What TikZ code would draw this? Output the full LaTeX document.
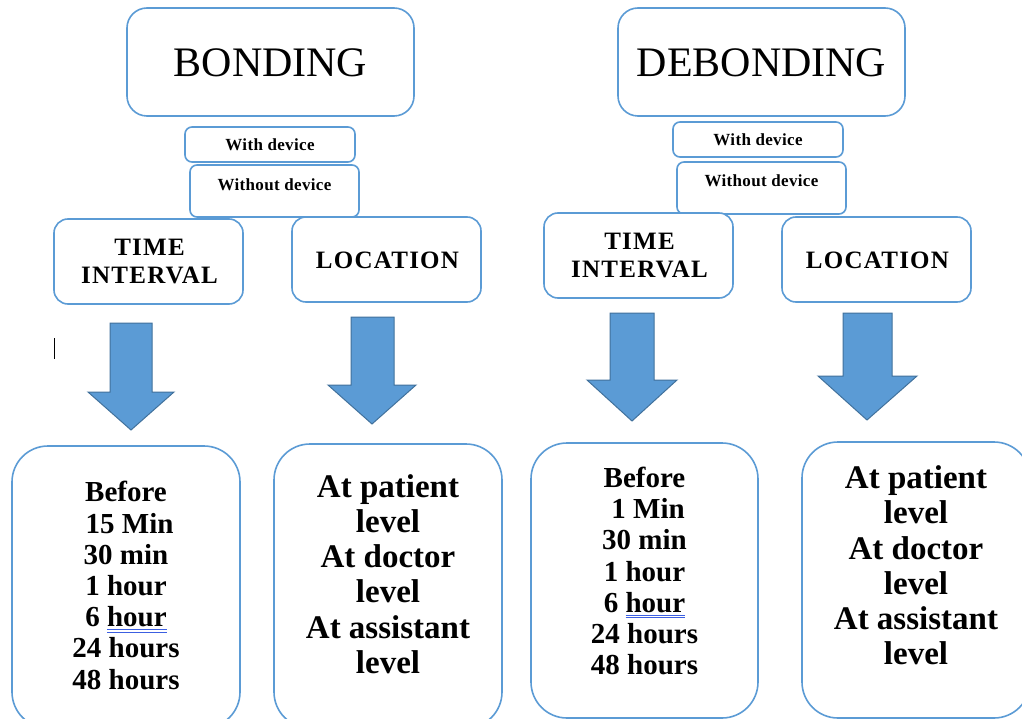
\documentclass[tikz,border=0pt]{standalone}
\usepackage{fontspec}
\setmainfont{Liberation Serif}
\definecolor{boxblue}{RGB}{91,155,213}
\definecolor{arrowedge}{RGB}{65,113,156}
\definecolor{ulblue}{RGB}{60,95,225}
\newsavebox\ulbox
\newcommand\dblunder[1]{\sbox\ulbox{#1}\rlap{\color{ulblue}\rule[-3pt]{\wd\ulbox}{0.7pt}}\rlap{\color{ulblue}\rule[-5.5pt]{\wd\ulbox}{0.7pt}}\usebox\ulbox}
\tikzset{
  frame/.style={draw=boxblue, line width=1.6pt, fill=white, inner sep=0pt},
  bigbox/.style={frame, rounded corners=20pt},
  smallbox/.style={frame, rounded corners=7pt},
  midbox/.style={frame, rounded corners=14pt},
  tallbox/.style={frame, rounded corners=36pt},
  titletext/.style={font=\fontsize{42}{46}\selectfont},
  devtext/.style={font=\fontsize{17}{20}\selectfont\bfseries\addfontfeature{LetterSpace=2}},
  headtext/.style={font=\fontsize{25}{28}\selectfont\bfseries\addfontfeature{LetterSpace=5}, align=center},
  listtext/.style={font=\fontsize{29}{31.2}\selectfont\bfseries, align=center},
  placetext/.style={font=\fontsize{33}{35.2}\selectfont\bfseries, align=center},
  blockarrow/.style={fill=boxblue, draw=arrowedge, line width=1pt, line join=miter}
}
\begin{document}
\begin{tikzpicture}[x=1pt,y=-1pt]
\clip (0,0) rectangle (1022,719);
\fill[white] (0,0) rectangle (1022,719);

% ---- left side: BONDING ----
\node[bigbox, minimum width=287pt, minimum height=108pt] (bond) at (270.5,62) {};
\node[titletext] (bondt) at (270.5,63) {BONDING};
\node[smallbox, minimum width=170pt, minimum height=35pt] (wd1) at (270,144.5) {};
\node[devtext] (wd1t) at (270,145) {With device};
\node[smallbox, minimum width=169pt, minimum height=52pt] (wod1) at (274.5,191) {};
\node[devtext] (wod1t) at (274.5,185) {Without device};
\node[midbox, minimum width=189pt, minimum height=85pt] (time1) at (148.5,261.5) {};
\node[headtext] (time1t) at (149.5,262) {TIME\\INTERVAL};
\node[midbox, minimum width=189pt, minimum height=85pt] (loc1) at (386.5,259.5) {};
\node[headtext] (loc1t) at (387.5,260) {LOCATION};

\draw[blockarrow] (110,323) -- (152,323) -- (152,392) -- (174,392) -- (131,430) -- (88,392) -- (110,392) -- cycle;
\draw[blockarrow] (351,317) -- (394,317) -- (394,385) -- (416,385) -- (372,424) -- (328,385) -- (351,385) -- cycle;
\draw[line width=0.8pt] (54,338) -- (54,359);

\node[tallbox, minimum width=228pt, minimum height=282pt] (list1) at (126,587) {};
\node[listtext] (list1t) at (126,585.5) {Before\\\hspace*{0.25em}15 Min\\30 min\\1 hour\\6 \dblunder{hour}\\24 hours\\48 hours};
\node[tallbox, minimum width=228pt, minimum height=284pt] (place1) at (388,586) {};
\node[placetext] (place1t) at (388,574) {At patient\\level\\At doctor\\level\\At assistant\\level};

% ---- right side: DEBONDING ----
\node[bigbox, minimum width=287pt, minimum height=108pt] (debond) at (761.5,62) {};
\node[titletext] (debondt) at (761.5,63) {DEBONDING};
\node[smallbox, minimum width=170pt, minimum height=35pt] (wd2) at (758,139.5) {};
\node[devtext] (wd2t) at (758,140) {With device};
\node[smallbox, minimum width=169pt, minimum height=52pt] (wod2) at (761.5,188) {};
\node[devtext] (wod2t) at (761.5,181) {Without device};
\node[midbox, minimum width=189pt, minimum height=85pt] (time2) at (638.5,255.5) {};
\node[headtext] (time2t) at (639.5,256) {TIME\\INTERVAL};
\node[midbox, minimum width=189pt, minimum height=85pt] (loc2) at (876.5,259.5) {};
\node[headtext] (loc2t) at (877.5,260) {LOCATION};

\draw[blockarrow] (610,313) -- (654,313) -- (654,380) -- (677,380) -- (632,421) -- (587,380) -- (610,380) -- cycle;
\draw[blockarrow] (843,313) -- (892,313) -- (892,376) -- (917,376) -- (867,420) -- (818,376) -- (843,376) -- cycle;

\node[tallbox, minimum width=227pt, minimum height=275pt] (list2) at (644.5,580.5) {};
\node[listtext] (list2t) at (644.5,571) {Before\\\hspace*{0.25em}1 Min\\30 min\\1 hour\\6 \dblunder{hour}\\24 hours\\48 hours};
\node[tallbox, minimum width=228pt, minimum height=276pt] (place2) at (916,580) {};
\node[placetext] (place2t) at (916,565.5) {At patient\\level\\At doctor\\level\\At assistant\\level};
\end{tikzpicture}
\end{document}
